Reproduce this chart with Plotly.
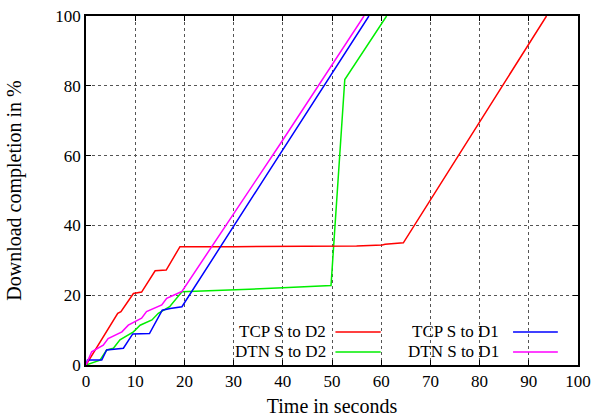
import plotly.graph_objects as go

# TCP S to D2 (red)
tcp_d2_x = [0, 6.45, 7.1, 9.64, 11.3, 14.05, 16.3, 19.1, 30, 40, 49.7, 55, 60.2, 60.8, 64.5, 93.6]
tcp_d2_y = [0, 14.8, 15.3, 20.5, 20.9, 27.0, 27.2, 33.9, 33.9, 33.95, 34.0, 34.1, 34.4, 34.6, 35.0, 100]

# DTN S to D2 (green)
dtn_d2_x = [0, 2.85, 4.2, 5.57, 6.9, 9.64, 11.0, 13.4, 14.7, 17.0, 19.5, 30, 40, 49.8, 52.6, 61.1]
dtn_d2_y = [0, 1.4, 4.3, 4.8, 7.2, 9.5, 11.4, 12.9, 14.8, 16.7, 21.0, 21.5, 22.1, 22.8, 81.8, 100]

# TCP S to D1 (blue)
tcp_d1_x = [0, 0.3, 3.2, 4.2, 7.6, 9.5, 12.9, 15.5, 17.1, 19.5, 36.0, 53.5, 54.1, 57.5]
tcp_d1_y = [0, 1.4, 1.4, 4.3, 4.8, 8.9, 9.0, 15.7, 16.2, 16.7, 52.9, 91.5, 92.6, 100]

# DTN S to D1 (magenta)
dtn_d1_x = [0, 1.15, 3.5, 4.5, 7.3, 8.6, 11.3, 12.3, 15.4, 16.4, 17.8, 19.5, 39.5, 56.5]
dtn_d1_y = [0, 3.8, 5.7, 7.6, 9.5, 11.4, 13.4, 15.3, 17.2, 19.1, 20.0, 21.1, 63.4, 100]

series_names = ["TCP S to D2", "DTN S to D2", "TCP S to D1", "DTN S to D1"]
series_colors = ["#ff0000", "#00ee00", "#0000ff", "#ff00ff"]
series_x = [tcp_d2_x, dtn_d2_x, tcp_d1_x, dtn_d1_x]
series_y = [tcp_d2_y, dtn_d2_y, tcp_d1_y, dtn_d1_y]

x_ticks = list(range(0, 101, 10))
y_ticks = list(range(0, 101, 20))

FONT = "Liberation Serif"

fig = go.Figure()
for i in [1, 0, 2, 3]:
    fig.add_trace(go.Scatter(x=series_x[i], y=series_y[i], mode="lines",
                             line=dict(color=series_colors[i], width=1.5),
                             name=series_names[i], showlegend=False))

# manual gnuplot-style legend (text, then sample line)
leg_rows = [0.0946, 0.0375]
leg_cols = [(0.491, 0.507, 0.599), (0.843, 0.868, 0.959)]
for k, i in enumerate([0, 1, 2, 3]):
    col = leg_cols[k // 2]
    row = leg_rows[k % 2]
    fig.add_annotation(x=col[0], y=row, xref="paper", yref="paper", text=series_names[i],
                       showarrow=False, xanchor="right", yanchor="middle",
                       font=dict(family=FONT, size=17, color="black"))
    fig.add_shape(type="line", xref="paper", yref="paper", x0=col[1], x1=col[2], y0=row, y1=row,
                  line=dict(color=series_colors[i], width=1.5))

axis_common = dict(showline=True, linecolor="black", linewidth=1.5, mirror="ticks",
                   ticks="inside", ticklen=5, tickcolor="black", automargin=False,
                   showgrid=True, gridcolor="#555555", griddash="dot", gridwidth=1,
                   zeroline=False, tickfont=dict(family=FONT, size=17, color="black"))

fig.update_xaxes(range=[0, 100], tickvals=x_ticks,
                 title=dict(text="Time in seconds", font=dict(family=FONT, size=20, color="black"), standoff=9),
                 **axis_common)
fig.update_yaxes(range=[0, 100], tickvals=y_ticks,
                 title=dict(text="Download completion in %", font=dict(family=FONT, size=20, color="black"), standoff=28),
                 **axis_common)

fig.update_layout(width=592, height=417, margin=dict(l=86, r=14, t=16, b=52, autoexpand=False),
                  plot_bgcolor="white", paper_bgcolor="white", showlegend=False,
                  font=dict(family=FONT, color="black"))

fig.write_html("out.html", config={"displayModeBar": False},
               post_script="document.body.style.margin='0px';")
